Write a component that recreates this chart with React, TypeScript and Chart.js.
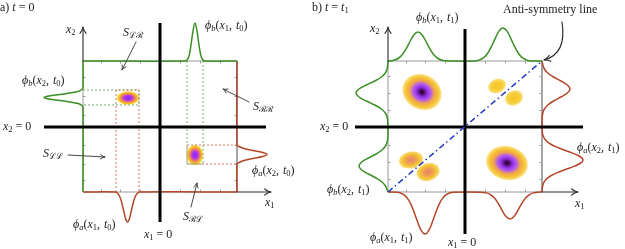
import React, { useEffect, useRef } from 'react';
import { Chart, registerables } from 'chart.js';

Chart.register(...registerables);

type P = [number, number];

// ---------- Panel a (t = 0), diagram units ----------
const aBox: P[] = [[83, 61], [237, 61], [237, 192], [83, 192], [83, 61]];
const aTopGreen: P[] = [[83, 61], [185, 61], [187, 60], [189, 56], [191, 45], [193, 31], [195, 23], [197, 31], [199, 45], [201, 56], [203, 60], [205, 61], [237, 61]];
const aLeftGreen: P[] = [[83, 61], [83, 87.5], [82, 89.5], [78, 91.5], [67, 93.5], [52, 95.5], [44, 97.5], [52, 99.5], [67, 101.5], [78, 103.5], [82, 105.5], [83, 107.5], [83, 192]];
const aBottomRed: P[] = [[83, 192], [115.5, 192], [117.5, 193.3], [119.5, 196], [121.5, 201.7], [123.5, 210], [125.5, 218.5], [127.5, 222], [129.5, 218.5], [131.5, 210], [133.5, 201.7], [135.5, 196], [137.5, 193.3], [139.5, 192], [237, 192]];
const aRightRed: P[] = [[237, 61], [237, 144.5], [239, 146.5], [244, 148.5], [252.5, 150.5], [262.5, 152.5], [267, 154.5], [262.5, 156.5], [252.5, 158.5], [244, 160.5], [239, 162.5], [237, 164.5], [237, 192]];
const aGreenBandH: P[] = [[83, 90], [139, 90], [139, 105], [83, 105]];
const aGreenBandV: P[] = [[187, 61], [187, 164], [203, 164], [203, 61]];
const aRedBandV: P[] = [[116, 192], [116, 90], [139, 90], [139, 192]];
const aRedBandH: P[] = [[237, 145], [187, 145], [187, 164], [237, 164]];
const aZeroH: P[] = [[44, 127], [266, 127]];
const aZeroV: P[] = [[160, 23], [160, 222]];
const aTicksX = [101, 120, 140, 180, 200, 220];
const aTicksY = [77, 96, 115, 145, 164, 180];

// ---------- Panel b (t = t1) ----------
const bBox: P[] = [[388, 61], [542, 61], [542, 192], [388, 192], [388, 61]];
const bTopGreen: P[] = [[388, 61], [390, 60.8], [394, 60.2], [398, 58.5], [402, 55], [406, 49.1], [410, 41.5], [414, 34.7], [418, 32], [422, 34.7], [426, 41.5], [430, 49.1], [434, 55], [438, 58.5], [442, 60.2], [446, 60.8], [450, 61], [475, 61], [479, 60.1], [483, 58.2], [487, 54.2], [491, 47.4], [495, 38.8], [499, 31.1], [503, 28], [507, 31.1], [511, 38.8], [515, 47.4], [519, 54.2], [523, 58.2], [527, 60.1], [531, 61], [542, 61]];
const bLeftGreen: P[] = [[388, 61], [387.7, 65], [387.1, 69], [385.3, 73], [381.4, 77], [374.8, 81], [366.4, 85], [359, 89], [356, 93], [359, 97], [366.4, 101], [374.8, 105], [381.4, 109], [385.3, 113], [387.1, 117], [387.7, 121], [388, 128], [387.8, 138], [387.2, 142], [385.5, 146], [382, 150], [376.1, 154], [368.5, 158], [361.7, 162], [359, 166], [361.7, 170], [368.5, 174], [376.1, 178], [382, 182], [385.5, 186], [387.2, 190], [388, 192]];
const bRightRed: P[] = [[542, 61], [542.8, 65], [544.4, 69], [547.8, 73], [553.5, 77], [560.9, 81], [567.4, 85], [570, 89], [567.4, 93], [560.9, 97], [553.5, 101], [547.8, 105], [544.4, 109], [542.8, 113], [542.2, 117], [542, 124], [542.3, 132], [543.2, 136], [545.5, 140], [550.4, 144], [558.9, 148], [569.6, 152], [579.1, 156], [583, 160], [579.1, 164], [569.6, 168], [558.9, 172], [550.4, 176], [545.5, 180], [543.2, 184], [542.3, 188], [542, 192]];
const bBottomRed: P[] = [[388, 192], [397, 192.3], [401, 193.2], [405, 195.6], [409, 200.7], [413, 209.3], [417, 220.3], [421, 230.1], [425, 234], [429, 230.1], [433, 220.3], [437, 209.3], [441, 200.7], [445, 195.6], [449, 193.2], [453, 192.3], [482, 192.2], [486, 192.8], [490, 194.3], [494, 197.6], [498, 203.1], [502, 210.2], [506, 216.5], [510, 219], [514, 216.5], [518, 210.2], [522, 203.1], [526, 197.6], [530, 194.3], [534, 192.8], [538, 192.2], [542, 192]];
const bZeroH: P[] = [[355, 127], [583, 127]];
const bZeroV: P[] = [[465, 29], [465, 234]];
const bAntiLine: P[] = [[388, 192], [542, 61]];
const bTicksX = [406, 425, 445, 485, 505, 525];
const bTicksY = [76, 93, 110, 145, 162, 179];

// ---------- Densities (blobs): cx, cy, rx, ry, rotation, kind ----------
const blobCx = [128, 195, 422, 507, 497, 514, 411, 428];
const blobCy = [98, 155, 92, 163, 86, 98, 160, 172];
const blobRx = [11.5, 8.5, 21, 22, 10, 10, 13, 12.5];
const blobRy = [7, 10.5, 18, 17.5, 7.5, 8, 9, 9.5];
const blobRot = [0, 0, 0.5, 0.25, -0.4, -0.4, -0.2, -0.3];
const blobKind = ['a', 'a', 'big', 'big', 'yellow', 'yellow', 'orange', 'orange'];

// ---------- Arrows ----------
const pointerArrows: number[][] = [[136, 42, 122, 70], [249, 102, 223, 89], [68, 155, 105, 157], [191, 207, 197, 183]];
const axisArrows: number[][] = [[83, 61, 83, 27], [237, 192, 271, 192], [388, 61, 388, 27], [542, 192, 578, 192]];
const curvedArrow = [562, 22, 567, 54, 544, 60];

// ---------- Text ----------
const labelTexts = [
  'a) $t = 0$', '$x_2$', '$ϕ_b(x_2, t_0)$', '$ϕ_b(x_1, t_0)$', '$S_{ℒℛ}$', '$S_{ℛℛ}$', '$x_2 = 0$', '$S_{ℒℒ}$',
  '$ϕ_a(x_2, t_0)$', '$S_{ℛℒ}$', '$x_1$', '$ϕ_a(x_1, t_0)$', '$x_1 = 0$',
  'b) $t = t_1$', '$x_2$', '$ϕ_b(x_1, t_1)$', 'Anti-symmetry line', '$x_2 = 0$', '$ϕ_a(x_2, t_1)$',
  '$ϕ_b(x_2, t_1)$', '$x_1$', '$ϕ_a(x_1, t_1)$', '$x_1 = 0$',
];
const labelX = [0, 66, 22, 205, 123, 253, 3, 43, 252, 183, 265, 73, 144, 312, 370, 416, 503, 320, 577, 327, 575, 370, 448];
const labelY = [8, 30, 81, 26, 33, 107, 127, 154, 171, 217, 203, 225, 235, 8, 29, 18, 10, 127, 148, 190, 204, 238, 243];

const GREEN = '#3a8f24';
const RED = '#b4462a';
const GREEN_D = '#78b266';
const RED_D = '#d27a68';
const GRAY = '#9a9a9a';

const gradStops: Record<string, [number, string][]> = {
  a: [[0, '#8a22f2'], [0.3, '#a634ee'], [0.5, '#e0609c'], [0.68, '#f2a030'], [0.88, '#f7d230'], [1, 'rgba(250,226,100,0.35)']],
  big: [[0, '#1a000c'], [0.1, '#4c0c5e'], [0.28, '#9434ec'], [0.45, '#b860e6'], [0.6, '#f0a24e'], [0.78, '#f5c234'], [0.92, '#f8dc72'], [1, 'rgba(252,240,170,0)']],
  yellow: [[0, '#f4c526'], [0.6, '#f6cf3c'], [0.85, '#f8dd78'], [1, 'rgba(252,240,170,0)']],
  orange: [[0, '#e6866a'], [0.35, '#ee9c58'], [0.65, '#f4c232'], [0.88, '#f8da70'], [1, 'rgba(252,240,170,0)']],
};

function drawRich(ctx: CanvasRenderingContext2D, markup: string, x: number, y: number) {
  let cx = x;
  let math = false;
  const main = 12;
  const sub = 8.5;
  for (let i = 0; i < markup.length; i++) {
    const ch = markup[i];
    if (ch === '$') { math = !math; continue; }
    let s = ch;
    let isSub = false;
    if (math && ch === '_') {
      isSub = true;
      if (markup[i + 1] === '{') {
        const j = markup.indexOf('}', i);
        s = markup.slice(i + 2, j);
        i = j;
      } else {
        s = markup[i + 1];
        i++;
      }
    }
    for (const c of Array.from(s)) {
      const italic = math && /[A-Za-zϕφ]/.test(c);
      const size = isSub ? sub : main;
      ctx.font = `${italic ? 'italic ' : ''}${size}px "Liberation Serif", "DejaVu Serif", serif`;
      ctx.fillText(c, cx, y + (isSub ? 3 : 0));
      cx += ctx.measureText(c).width + (math && c === ',' ? 1 : 0);
    }
  }
}

function arrowHead(ctx: CanvasRenderingContext2D, fx: number, fy: number, tx: number, ty: number, len: number) {
  const a = Math.atan2(ty - fy, tx - fx);
  const sp = 0.45;
  ctx.beginPath();
  ctx.moveTo(tx - len * Math.cos(a - sp), ty - len * Math.sin(a - sp));
  ctx.quadraticCurveTo(tx - len * 0.3 * Math.cos(a), ty - len * 0.3 * Math.sin(a), tx, ty);
  ctx.quadraticCurveTo(tx - len * 0.3 * Math.cos(a), ty - len * 0.3 * Math.sin(a), tx - len * Math.cos(a + sp), ty - len * Math.sin(a + sp));
  ctx.stroke();
}

const diagramPlugin = {
  id: 'diagram',
  beforeDatasetsDraw(chart: any) {
    const { ctx, scales } = chart;
    const sx = (v: number) => scales.x.getPixelForValue(v);
    const sy = (v: number) => scales.y.getPixelForValue(v);
    ctx.save();
    // densities
    for (let i = 0; i < blobCx.length; i++) {
      const px = sx(blobCx[i]);
      const py = sy(blobCy[i]);
      const rx = Math.abs(sx(blobCx[i] + blobRx[i]) - px);
      const ry = Math.abs(sy(blobCy[i] + blobRy[i]) - py);
      ctx.save();
      ctx.translate(px, py);
      ctx.rotate(blobRot[i]);
      ctx.scale(rx, ry);
      const g = ctx.createRadialGradient(0, 0, 0, 0, 0, 1);
      for (const [o, c] of gradStops[blobKind[i]]) g.addColorStop(o, c);
      ctx.fillStyle = g;
      ctx.beginPath();
      ctx.arc(0, 0, 1, 0, Math.PI * 2);
      ctx.fill();
      ctx.restore();
    }
    // small ticks on the box edges
    ctx.strokeStyle = GRAY;
    ctx.lineWidth = 1;
    const ticks = (xs: number[], ys: number[], box: P[]) => {
      const [l, t] = box[0];
      const [r, b] = box[2];
      for (const v of xs) {
        const p = Math.round(sx(v)) + 0.5;
        ctx.beginPath();
        ctx.moveTo(p, sy(t)); ctx.lineTo(p, sy(t) + 2.5);
        ctx.moveTo(p, sy(b)); ctx.lineTo(p, sy(b) - 2.5);
        ctx.stroke();
      }
      for (const v of ys) {
        const p = Math.round(sy(v)) + 0.5;
        ctx.beginPath();
        ctx.moveTo(sx(l), p); ctx.lineTo(sx(l) + 2.5, p);
        ctx.moveTo(sx(r), p); ctx.lineTo(sx(r) - 2.5, p);
        ctx.stroke();
      }
    };
    ticks(aTicksX, aTicksY, aBox);
    ticks(bTicksX, bTicksY, bBox);
    ctx.restore();
  },
  afterDatasetsDraw(chart: any) {
    const { ctx, scales } = chart;
    const sx = (v: number) => scales.x.getPixelForValue(v);
    const sy = (v: number) => scales.y.getPixelForValue(v);
    ctx.save();
    ctx.lineCap = 'round';
    // axis arrows
    ctx.strokeStyle = '#2a2a2a';
    ctx.lineWidth = 1.1;
    for (const [x1, y1, x2, y2] of axisArrows) {
      ctx.beginPath();
      ctx.moveTo(sx(x1), sy(y1));
      ctx.lineTo(sx(x2), sy(y2));
      ctx.stroke();
      arrowHead(ctx, sx(x1), sy(y1), sx(x2), sy(y2), 7);
    }
    // pointer arrows
    ctx.strokeStyle = '#333';
    ctx.lineWidth = 0.9;
    for (const [x1, y1, x2, y2] of pointerArrows) {
      ctx.beginPath();
      ctx.moveTo(sx(x1), sy(y1));
      ctx.lineTo(sx(x2), sy(y2));
      ctx.stroke();
      arrowHead(ctx, sx(x1), sy(y1), sx(x2), sy(y2), 5);
    }
    // curved arrow to the anti-symmetry line
    const [c0x, c0y, c1x, c1y, c2x, c2y] = curvedArrow;
    ctx.strokeStyle = '#222';
    ctx.lineWidth = 1.1;
    ctx.beginPath();
    ctx.moveTo(sx(c0x), sy(c0y));
    ctx.quadraticCurveTo(sx(c1x), sy(c1y), sx(c2x), sy(c2y));
    ctx.stroke();
    arrowHead(ctx, sx(c1x), sy(c1y), sx(c2x), sy(c2y), 7);
    // labels
    ctx.fillStyle = '#222';
    ctx.textBaseline = 'middle';
    ctx.textAlign = 'left';
    for (let i = 0; i < labelTexts.length; i++) {
      drawRich(ctx, labelTexts[i], sx(labelX[i]), sy(labelY[i]));
    }
    ctx.restore();
  },
};

const line = (pts: P[], color: string, width: number, order: number, extra: Record<string, unknown> = {}) => ({
  data: pts.map(([x, y]) => ({ x, y })),
  showLine: true,
  borderColor: color,
  backgroundColor: color,
  borderWidth: width,
  pointRadius: 0,
  pointHoverRadius: 0,
  fill: false,
  tension: 0,
  order,
  ...extra,
});

export default function App() {
  const ref = useRef<HTMLCanvasElement | null>(null);
  useEffect(() => {
    if (!ref.current) return;
    const curve = { tension: 0.4 };
    const dash = { borderDash: [2, 2] };
    const datasets = [
      line(aBox, GRAY, 1, 20),
      line(bBox, GRAY, 1, 20),
      line(aGreenBandH, GREEN_D, 1, 15, dash),
      line(aGreenBandV, GREEN_D, 1, 15, dash),
      line(aRedBandV, RED_D, 1, 14, dash),
      line(aRedBandH, RED_D, 1, 14, dash),
      line(aTopGreen, GREEN, 1.5, 8, curve),
      line(aLeftGreen, GREEN, 1.5, 8, curve),
      line(aBottomRed, RED, 1.5, 8, curve),
      line(aRightRed, RED, 1.5, 8, curve),
      line(bTopGreen, GREEN, 1.5, 8, curve),
      line(bLeftGreen, GREEN, 1.5, 8, curve),
      line(bBottomRed, RED, 1.5, 8, curve),
      line(bRightRed, RED, 1.5, 8, curve),
      line(aZeroH, '#000', 3, 4, { borderCapStyle: 'butt' }),
      line(aZeroV, '#000', 3, 4, { borderCapStyle: 'butt' }),
      line(bZeroH, '#000', 3, 4, { borderCapStyle: 'butt' }),
      line(bZeroV, '#000', 3, 4, { borderCapStyle: 'butt' }),
      line(bAntiLine, '#1e35c4', 1.5, 2, { borderDash: [6, 3, 1.5, 3] }),
    ];
    const chart = new Chart(ref.current, {
      type: 'scatter',
      data: { datasets: datasets as any },
      options: {
        animation: false,
        responsive: false,
        events: [],
        layout: { padding: 0 },
        scales: {
          x: { type: 'linear', min: 0, max: 625, display: false },
          y: { type: 'linear', min: 0, max: 249, reverse: true, display: false },
        },
        plugins: { legend: { display: false }, tooltip: { enabled: false } },
      },
      plugins: [diagramPlugin as any],
    });
    return () => chart.destroy();
  }, []);
  return (
    <div style={{ position: 'fixed', left: 0, top: 0, width: 625, height: 249, background: '#fff' }}>
      <canvas ref={ref} width={625} height={249} style={{ display: 'block' }} />
    </div>
  );
}
